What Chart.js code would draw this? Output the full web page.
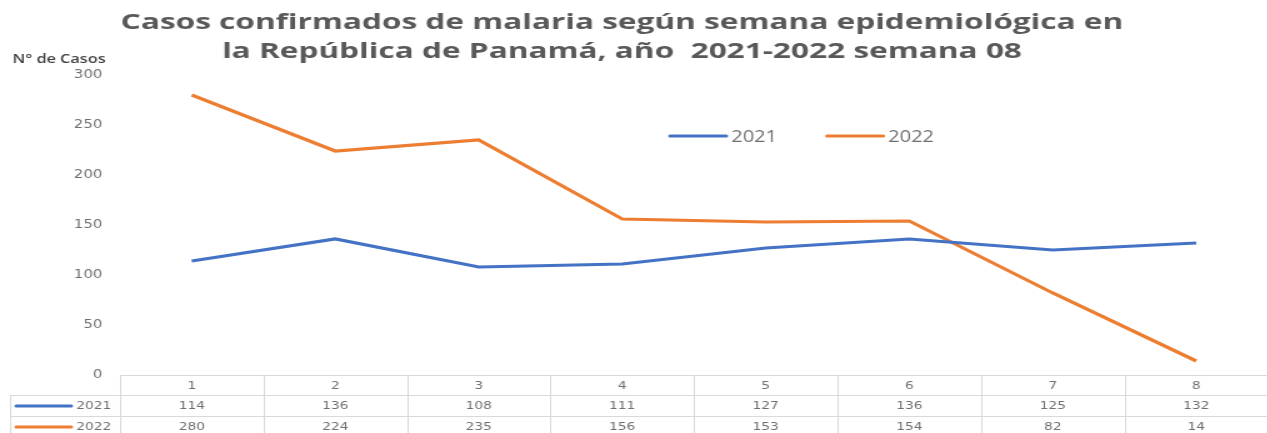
<!DOCTYPE html>
<html>
<head>
<meta charset="utf-8">
<script src="https://cdn.jsdelivr.net/npm/chart.js@4/dist/chart.umd.min.js"></script>
<style>
  html, body { margin: 0; padding: 0; background: #fff; overflow: hidden; }
  /* the reference is stretched sideways, so the chart is too */
  #wrap { width: 1016px; height: 433px; transform: scaleX(1.25); transform-origin: 0 0; }
</style>
</head>
<body>
<div id="wrap"><canvas id="chart"></canvas></div>
<script>
// --- datos ---
const semanas = ['1', '2', '3', '4', '5', '6', '7', '8'];
const casos2021 = [114, 136, 108, 111, 127, 136, 125, 132];
const casos2022 = [280, 224, 235, 156, 153, 154, 82, 14];
const tituloLineas = [
    'Casos confirmados de malaria según semana epidemiológica en',
    'la República de Panamá, año  2021-2022 semana 08'
];
const ejeY = 'N° de Casos';

const AZUL = '#4472C4';
const NARANJA = '#ED7D31';
const GRIS = '#595959';
const GRIS_CLARO = '#6f6f6f';
const BORDE = '#d9d9d9';

// Título, leyenda y tabla de datos dibujados a mano
const extras = {
    id: 'extras',
    afterDraw(chart) {
        const ctx = chart.ctx;
        const x = chart.scales.x;
        const area = chart.chartArea;
        const sets = chart.data.datasets;
        ctx.save();

        // título
        ctx.fillStyle = GRIS;
        ctx.font = 'bold 22px "Open Sans"';
        ctx.textAlign = 'center';
        ctx.textBaseline = 'middle';
        const w0 = ctx.measureText(tituloLineas[0]).width;
        const sx = 802 / w0;
        tituloLineas.forEach((t, i) => {
            ctx.save();
            ctx.translate(497.6, 23 + i * 29);
            ctx.scale(sx, 1);
            ctx.fillText(t, 0, 0);
            ctx.restore();
        });

        // etiqueta eje y
        ctx.fillStyle = '#404040';
        ctx.font = '600 13px "Open Sans"';
        ctx.textAlign = 'left';
        ctx.fillText(ejeY, 10, 59);

        // leyenda
        const leg = [536, 661.6];
        ctx.font = '16px "Open Sans"';
        sets.forEach((d, i) => {
            ctx.strokeStyle = d.borderColor;
            ctx.lineWidth = 3;
            ctx.lineCap = 'round';
            ctx.beginPath();
            ctx.moveTo(leg[i], 136);
            ctx.lineTo(leg[i] + 45, 136);
            ctx.stroke();
            ctx.fillStyle = GRIS_CLARO;
            ctx.fillText(d.label, leg[i] + 49, 137);
        });

        // tabla
        const filas = [375.5, 395.5, 416.5];
        const abajo = chart.height;
        const n = semanas.length;
        const bordes = [area.left];
        for (let i = 0; i < n - 1; i++) {
            bordes.push((x.getPixelForValue(i) + x.getPixelForValue(i + 1)) / 2);
        }
        bordes.push(area.right - 0.5);
        ctx.strokeStyle = BORDE;
        ctx.lineWidth = 1;
        ctx.lineCap = 'butt';
        ctx.beginPath();
        ctx.moveTo(area.left, filas[0]); ctx.lineTo(area.right, filas[0]);
        ctx.moveTo(8, filas[1]); ctx.lineTo(area.right, filas[1]);
        ctx.moveTo(8, filas[2]); ctx.lineTo(area.right, filas[2]);
        ctx.moveTo(8.5, filas[1]); ctx.lineTo(8.5, abajo);
        bordes.forEach(b => {
            const bx = Math.round(b) + 0.5;
            ctx.moveTo(bx, filas[0]);
            ctx.lineTo(bx, abajo);
        });
        ctx.stroke();

        ctx.font = '11px "DejaVu Sans"';
        ctx.textAlign = 'center';
        ctx.fillStyle = GRIS_CLARO;
        semanas.forEach((s, i) => {
            const cx = x.getPixelForValue(i);
            ctx.fillText(s, cx, 386);
            sets.forEach((d, j) => {
                ctx.fillText(String(d.data[i]), cx, 406 + j * 21);
            });
        });
        // claves de la tabla
        sets.forEach((d, j) => {
            const cy = 406 + j * 21;
            ctx.strokeStyle = d.borderColor;
            ctx.lineWidth = 3;
            ctx.lineCap = 'round';
            ctx.beginPath();
            ctx.moveTo(13, cy);
            ctx.lineTo(57, cy);
            ctx.stroke();
            ctx.fillStyle = GRIS_CLARO;
            ctx.textAlign = 'left';
            ctx.fillText(d.label, 61, cy);
        });
        ctx.restore();
    }
};

new Chart(document.getElementById('chart'), {
    type: 'line',
    data: {
        labels: semanas,
        datasets: [
            { label: '2021', data: casos2021, borderColor: AZUL, backgroundColor: AZUL,
              borderWidth: 3.2, pointRadius: 0, tension: 0 },
            { label: '2022', data: casos2022, borderColor: NARANJA, backgroundColor: NARANJA,
              borderWidth: 3.2, pointRadius: 0, tension: 0 }
        ]
    },
    options: {
        responsive: true,
        maintainAspectRatio: false,
        animation: false,
        devicePixelRatio: 1,
        layout: { padding: { top: 75, left: 0, right: 0, bottom: 0 } },
        plugins: { legend: { display: false }, title: { display: false }, tooltip: { enabled: false } },
        scales: {
            x: {
                offset: true,
                grid: { display: false, drawTicks: false },
                border: { display: false },
                ticks: { display: false },
                afterFit: s => { s.height = 58; }
            },
            y: {
                min: 0, max: 300,
                grid: { display: false, drawTicks: false },
                border: { display: false },
                ticks: { stepSize: 50, padding: 14, color: GRIS_CLARO, font: { family: 'DejaVu Sans', size: 12 } },
                afterFit: s => { s.width = 96; }
            }
        }
    },
    plugins: [extras]
});
</script>
</body>
</html>
